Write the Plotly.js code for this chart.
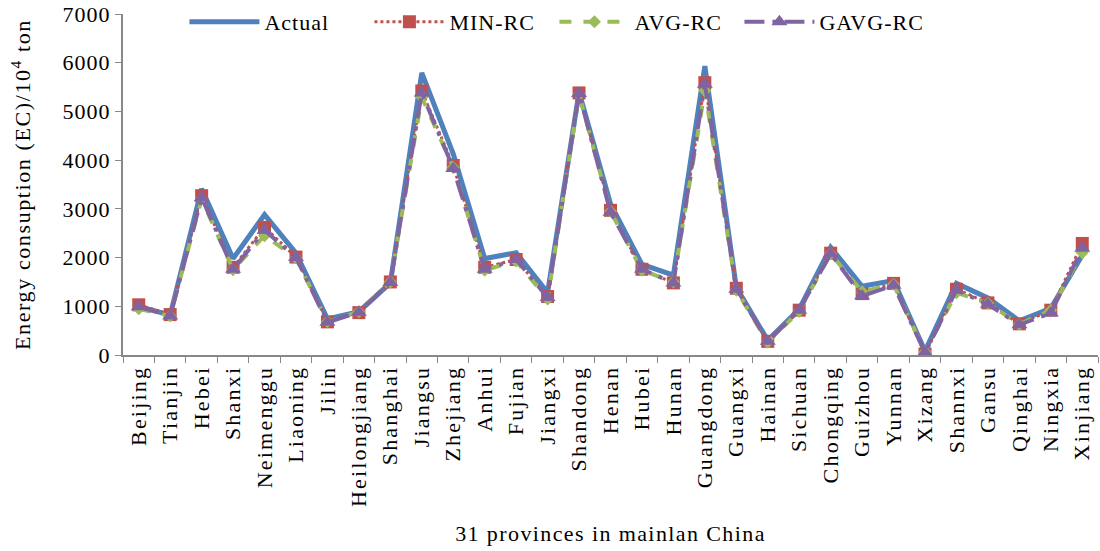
<!DOCTYPE html>
<html>
<head>
<meta charset="utf-8">
<script src="https://cdn.plot.ly/plotly-3.0.1.min.js"></script>
<style>
html,body{margin:0;padding:0;background:#fff;}
#chart{width:1100px;height:551px;}
svg text{letter-spacing:1px;}
.xtick text{letter-spacing:2.2px;}
.ytitle{letter-spacing:1.6px;}
.xtitle{letter-spacing:1.4px;}
</style>
</head>
<body>
<div id="chart"></div>
<script>
const provinces = ["Beijing","Tianjin","Hebei","Shanxi","Neimenggu","Liaoning","Jilin","Heilongjiang","Shanghai","Jiangsu","Zhejiang","Anhui","Fujian","Jiangxi","Shandong","Henan","Hubei","Hunan","Guangdong","Guangxi","Hainan","Sichuan","Chongqing","Guizhou","Yunnan","Xizang","Shannxi","Gansu","Qinghai","Ningxia","Xinjiang"];
const actual = [1000,820,3410,1980,2880,2090,740,890,1480,5790,4130,1980,2100,1280,5400,3100,1860,1640,5930,1390,300,940,2210,1410,1530,80,1470,1170,700,960,2050];
const minRC  = [1030,830,3270,1800,2620,2010,680,870,1500,5420,3890,1800,1960,1200,5380,2970,1760,1480,5590,1370,280,920,2090,1260,1470,20,1350,1070,640,920,2290];
const avgRC  = [950,800,3200,1750,2450,1990,680,890,1500,5290,3850,1740,1930,1150,5350,2950,1740,1500,5430,1330,260,900,2080,1300,1450,60,1280,1060,630,920,2100];
const gavgRC = [990,800,3230,1760,2560,2000,670,880,1490,5380,3830,1760,1960,1180,5370,2930,1760,1480,5560,1350,280,920,2080,1210,1430,50,1330,1040,620,860,2190];

const serif = "Liberation Serif, Times New Roman, serif";
const traces = [
  {x: provinces, y: actual, name: "Actual", type: "scatter", mode: "lines",
   line: {color: "#4F81BD", width: 5}},
  {x: provinces, y: minRC, name: "MIN-RC", type: "scatter", mode: "lines+markers",
   line: {color: "#C0504D", width: 3, dash: "dot"},
   marker: {symbol: "square", size: 13, color: "#C0504D"}},
  {x: provinces, y: avgRC, name: "AVG-RC", type: "scatter", mode: "lines+markers",
   line: {color: "#9BBB59", width: 4, dash: "dash"},
   marker: {symbol: "diamond", size: 10, color: "#9BBB59"}},
  {x: provinces, y: gavgRC, name: "GAVG-RC", type: "scatter", mode: "lines+markers",
   line: {color: "#8064A2", width: 4, dash: "longdashdot"},
   marker: {symbol: "triangle-up", size: 14, color: "#8064A2"}}
];

const layout = {
  width: 1100, height: 551,
  margin: {l: 123, r: 2, t: 13, b: 196},
  paper_bgcolor: "#fff", plot_bgcolor: "#fff",
  font: {family: serif, color: "#000", size: 22},
  showlegend: true,
  legend: {orientation: "h", x: 0.063, xanchor: "left", y: 0.974, yanchor: "middle",
           bgcolor: "rgba(0,0,0,0)", font: {family: serif, size: 22}, itemwidth: 70,
           entrywidth: 100, entrywidthmode: "pixels"},
  xaxis: {type: "category", range: [-0.5, 30.5], tickangle: -90, tickson: "boundaries",
          ticks: "outside", ticklen: 6, tickcolor: "#888", showline: true, linecolor: "#888", linewidth: 2,
          showgrid: false, zeroline: false, tickfont: {family: serif, size: 22},
          title: {text: "31 provinces in mainlan China", font: {family: serif, size: 22}, standoff: 20}},
  yaxis: {range: [0, 7000], dtick: 1000, ticks: "outside", ticklen: 6, tickcolor: "#888",
          showline: true, linecolor: "#888", linewidth: 2, showgrid: false, zeroline: false,
          tickfont: {family: serif, size: 22},
          title: {text: "Energy consuption (EC)/10<sup>4</sup> ton", font: {family: serif, size: 22}, standoff: 26}}
};
Plotly.newPlot("chart", traces, layout, {displayModeBar: false, staticPlot: true});
</script>
</body>
</html>
